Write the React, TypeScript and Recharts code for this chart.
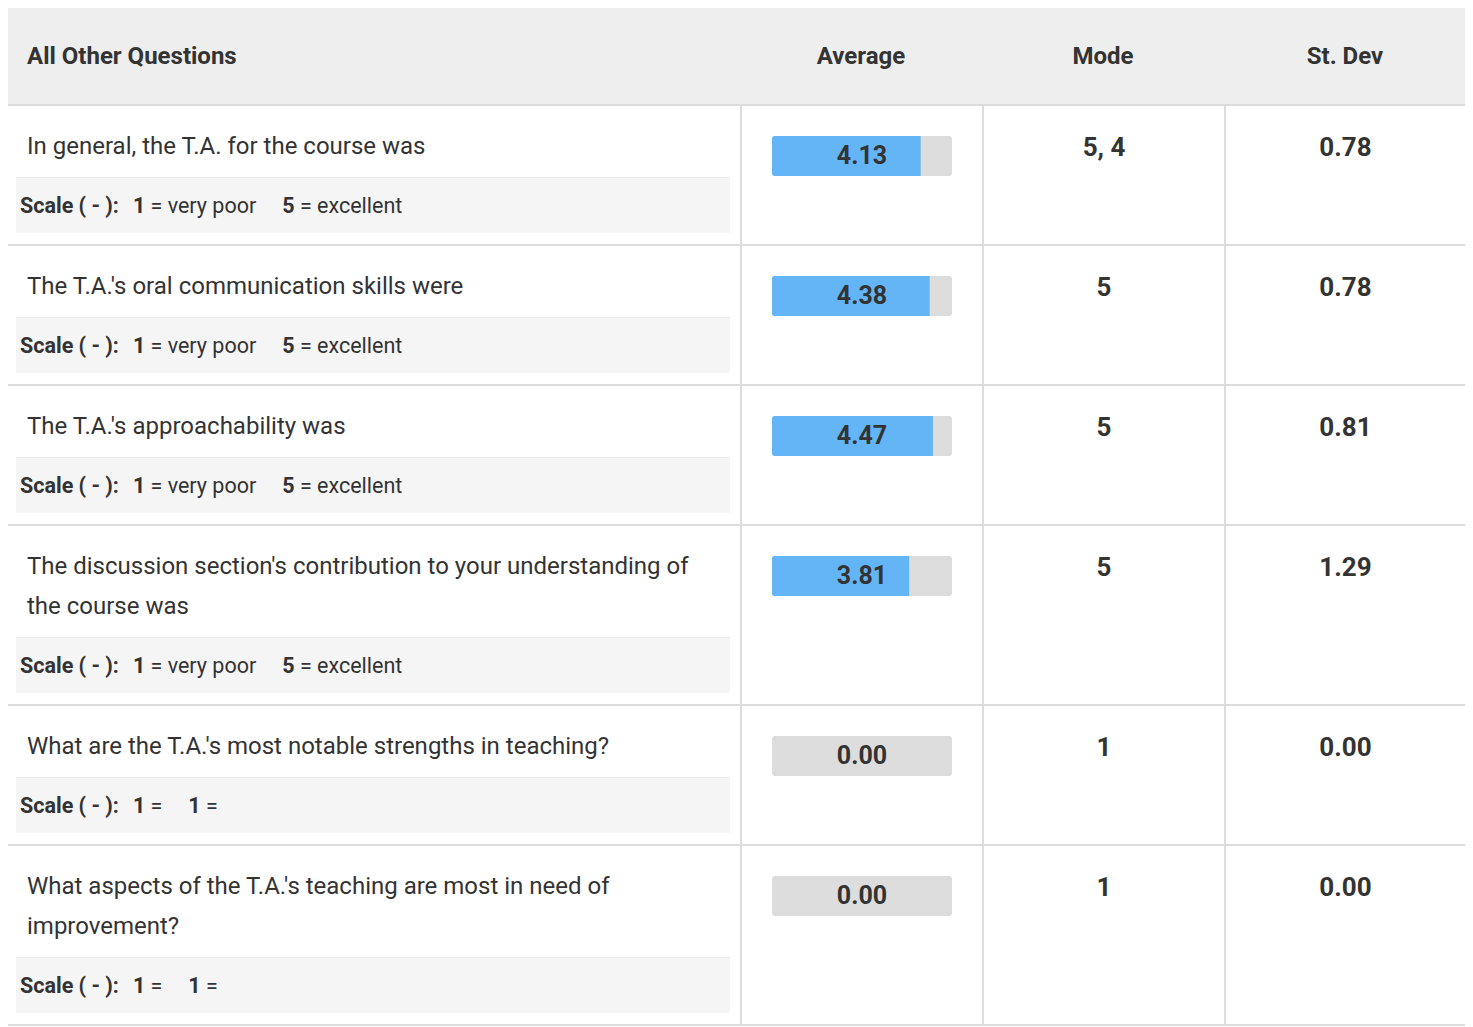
import { BarChart, Bar, XAxis, YAxis, ReferenceLine, ReferenceArea, Rectangle } from "recharts";

const questions = [
  "In general, the T.A. for the course was",
  "The T.A.'s oral communication skills were",
  "The T.A.'s approachability was",
  "The discussion section's contribution to your understanding of the course was",
  "What are the T.A.'s most notable strengths in teaching?",
  "What aspects of the T.A.'s teaching are most in need of improvement?",
];
const averages = [4.13, 4.38, 4.47, 3.81, 0, 0];
const modes = ["5, 4", "5", "5", "5", "1", "1"];
const stDevs = [0.78, 0.78, 0.81, 1.29, 0, 0];
const scaleLowNum = [1, 1, 1, 1, 1, 1];
const scaleLowText = ["very poor", "very poor", "very poor", "very poor", "", ""];
const scaleHighNum = [5, 5, 5, 5, 1, 1];
const scaleHighText = ["excellent", "excellent", "excellent", "excellent", "", ""];

const SCALE_MAX = 5;
const TEXT = "#333333";
const LINE = "#dddddd";
const FONT = "Roboto, 'Noto Sans', sans-serif";

// track behind the bar; drawn as a reference area so it also shows for 0 values
const RoundedTrack = (props: any) => <Rectangle {...props} radius={3} />;

function AverageBar({ value }: { value: number }) {
  const data = [{ name: "avg", value }];
  return (
    <BarChart width={180} height={40} data={data} layout="vertical" margin={{ top: 0, right: 0, bottom: 0, left: 0 }} barCategoryGap={0}>
      <XAxis type="number" domain={[0, SCALE_MAX]} hide />
      <YAxis type="category" dataKey="name" hide />
      <ReferenceArea x1={0} x2={SCALE_MAX} fill="#dddddd" fillOpacity={1} stroke="none" shape={RoundedTrack} />
      <Bar dataKey="value" fill="#64b5f6" radius={[3, 0, 0, 3]} isAnimationActive={false} />
      <ReferenceLine
        x={SCALE_MAX / 2}
        stroke="none"
        label={{ value: value.toFixed(2), position: "center", fill: TEXT, fontSize: 25, fontWeight: 700, fontFamily: FONT, dy: -1 }}
      />
    </BarChart>
  );
}

const eq = (label: string) => (label ? ` = ${label}` : " =");

const numCell: React.CSSProperties = {
  width: 240,
  borderLeft: `2px solid ${LINE}`,
  textAlign: "center",
  fontSize: 26,
  fontWeight: 700,
  lineHeight: "34px",
  paddingTop: 24,
  boxSizing: "content-box",
};

export default function App() {
  return (
    <div style={{ width: 1460, position: "relative", left: -2, fontFamily: FONT, color: TEXT }}>
      <div style={{ display: "flex", height: 96, background: "#eeeeee", borderBottom: `2px solid ${LINE}`, alignItems: "center", fontSize: 24, fontWeight: 700 }}>
        <div style={{ width: 734, paddingLeft: 21, boxSizing: "border-box" }}>All Other Questions</div>
        <div style={{ width: 242, textAlign: "center" }}>Average</div>
        <div style={{ width: 242, textAlign: "center" }}>Mode</div>
        <div style={{ width: 242, textAlign: "center" }}>St. Dev</div>
      </div>
      {questions.map((q, i) => (
        <div key={i} style={{ display: "flex", borderBottom: `2px solid ${LINE}` }}>
          <div style={{ width: 734, padding: "20px 10px 11px 10px", boxSizing: "border-box" }}>
            <div style={{ fontSize: 24, lineHeight: "40px", paddingLeft: 11, paddingRight: 20, marginBottom: 11 }}>{q}</div>
            <div style={{ background: "#f5f5f5", borderTop: "1px solid #e9e9e9", height: 55, lineHeight: "55px", paddingLeft: 4, fontSize: 21.5, whiteSpace: "pre" }}>
              <b>Scale ( - ):</b>
              <span style={{ marginLeft: 14 }}><b>{scaleLowNum[i]}</b>{eq(scaleLowText[i])}</span>
              <span style={{ marginLeft: 26 }}><b>{scaleHighNum[i]}</b>{eq(scaleHighText[i])}</span>
            </div>
          </div>
          <div style={{ width: 240, borderLeft: `2px solid ${LINE}`, paddingTop: 30, display: "flex", justifyContent: "center" }}>
            <AverageBar value={averages[i]} />
          </div>
          <div style={numCell}>{modes[i]}</div>
          <div style={{ ...numCell, width: 239 }}>{stDevs[i].toFixed(2)}</div>
        </div>
      ))}
    </div>
  );
}
